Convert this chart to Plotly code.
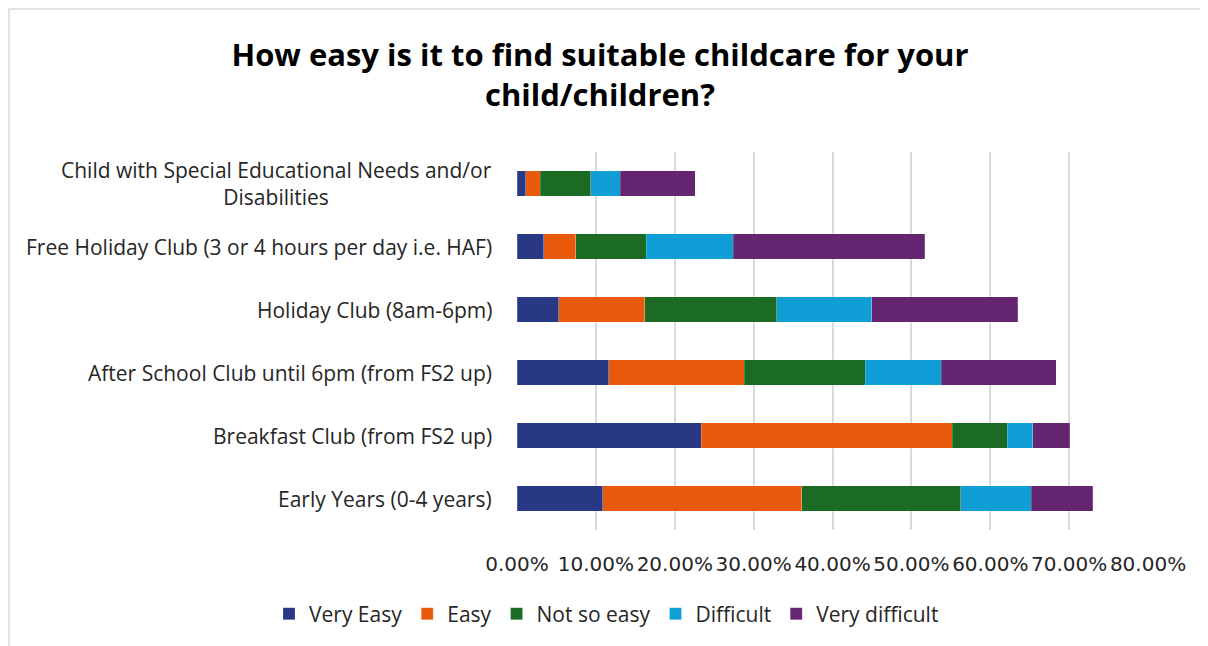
import plotly.graph_objects as go

categories = [
    "Child with Special Educational Needs and/or<br>Disabilities",
    "Free Holiday Club (3 or 4 hours per day i.e. HAF)",
    "Holiday Club (8am-6pm)",
    "After School Club until 6pm (from FS2 up)",
    "Breakfast Club (from FS2 up)",
    "Early Years (0-4 years)",
]
series_names = ["Very Easy", "Easy", "Not so easy", "Difficult", "Very difficult"]
very_easy = [0.0110, 0.0340, 0.0527, 0.1166, 0.2337, 0.1088]
easy = [0.0183, 0.0403, 0.1093, 0.1712, 0.3180, 0.2522]
not_so_easy = [0.0645, 0.0896, 0.1673, 0.1537, 0.0698, 0.2014]
difficult = [0.0374, 0.1104, 0.1205, 0.0965, 0.0322, 0.0893]
very_difficult = [0.0947, 0.2427, 0.1848, 0.1454, 0.0468, 0.0785]
colors = ["#283884", "#E8590C", "#1B6B25", "#0F9ED5", "#652570"]
tick_vals = [0, 0.1, 0.2, 0.3, 0.4, 0.5, 0.6, 0.7, 0.8]

FONT = "Open Sans"
W, H = 1200, 638
L, R, T, B = 509, 60, 144, 116
PW, PH = W - L - R, H - T - B

fig = go.Figure()
for name, vals, col in zip(series_names, [very_easy, easy, not_so_easy, difficult, very_difficult], colors):
    fig.add_trace(go.Bar(
        y=categories, x=vals, name=name, orientation="h",
        marker=dict(color=col, line=dict(color="rgba(255,255,255,0.4)", width=0.5)),
    ))

for c in categories:
    fig.add_annotation(
        x=-23 / PW, xref="paper", y=c, yref="y", text=c, showarrow=False,
        xanchor="right", align="center", font=dict(family=FONT, size=21, color="#262626"),
    )

fig.update_layout(
    barmode="stack",
    bargap=0.6,
    width=W, height=H,
    margin=dict(l=L, r=R, t=T, b=B, autoexpand=False),
    paper_bgcolor="white", plot_bgcolor="white",
    font=dict(family=FONT, color="#262626"),
    title=dict(
        text="<b>How easy is it to find suitable childcare for your<br>child/children?</b>",
        x=592 / W, xref="container", xanchor="center",
        y=1 - 58 / H, yref="container", yanchor="middle",
        font=dict(family=FONT, size=31, color="black"),
    ),
    legend=dict(
        orientation="h", x=(261 - L) / PW, xanchor="left", xref="paper",
        y=-(606 - (T + PH)) / PH, yref="paper", yanchor="middle",
        font=dict(family=FONT, size=21, color="#262626"),
        traceorder="normal",
    ),
    xaxis=dict(
        range=[0, 0.8], tickvals=tick_vals, tickformat=".2%",
        showgrid=True, gridcolor="#D9D9D9", gridwidth=1.5,
        zeroline=False, showline=False, ticks="", ticklabelstandoff=20,
        tickfont=dict(family="DejaVu Sans", size=20, color="#262626"),
    ),
    yaxis=dict(
        categoryorder="array", categoryarray=categories, autorange="reversed",
        showticklabels=False, showgrid=False, zeroline=False, ticks="",
    ),
    shapes=[dict(
        type="rect", xref="paper", yref="paper",
        x0=(1 - L) / PW, x1=(W + 100 - L) / PW,
        y0=-(H + 100 - (T + PH)) / PH, y1=(T + PH - 1) / PH,
        line=dict(color="#D9D9D9", width=1.5), layer="below",
    )],
)

fig.write_html("out.html")
